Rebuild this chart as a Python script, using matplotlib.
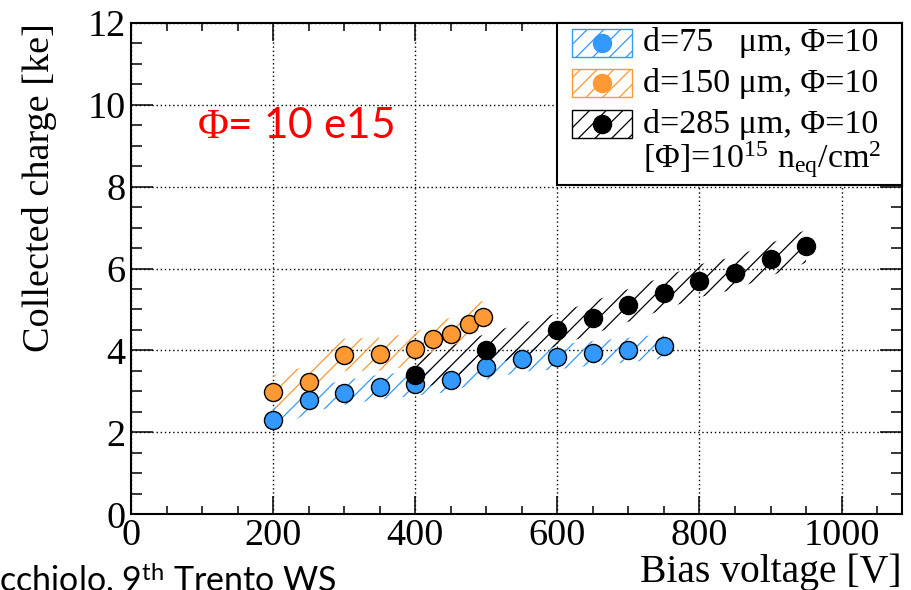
import matplotlib
matplotlib.use("Agg")
import matplotlib.pyplot as plt
from matplotlib.patches import Rectangle
from matplotlib.ticker import MultipleLocator

plt.rcParams['font.family'] = ['Liberation Serif', 'DejaVu Serif']
plt.rcParams['mathtext.fontset'] = 'custom'
plt.rcParams['mathtext.rm'] = 'Liberation Serif'
plt.rcParams['mathtext.it'] = 'Liberation Serif:italic'
plt.rcParams['mathtext.sf'] = 'Lato'
plt.rcParams['hatch.linewidth'] = 0.9

# ---- data ----
v_75 = [200, 250, 300, 350, 400, 450, 500, 550, 600, 650, 700, 750]
q_75 = [2.30, 2.79, 2.97, 3.11, 3.19, 3.29, 3.59, 3.78, 3.84, 3.93, 4.01, 4.10]
e_75 = [0.3] * 12

v_150 = [200, 250, 300, 350, 400, 425, 450, 475, 495]
q_150 = [2.99, 3.23, 3.89, 3.91, 4.03, 4.28, 4.40, 4.64, 4.82]
e_150 = [0.4] * 9

v_285 = [400, 500, 600, 650, 700, 750, 800, 850, 900, 950]
q_285 = [3.41, 4.01, 4.51, 4.80, 5.10, 5.40, 5.70, 5.89, 6.22, 6.54]
e_285 = [0.4] * 10

labels = ["d=75   μm, Φ=10", "d=150 μm, Φ=10", "d=285 μm, Φ=10"]
unit_label = r"[Φ]=10$^{15}$ n$_{\mathrm{eq}}$/cm$^{2}$"
colors = ["#3399ff", "#ff9933", "#000000"]

W, H = 912, 590
fig = plt.figure(figsize=(W / 100, H / 100), dpi=100)
L, R, T, B = 131, 902, 22.7, 514.3
ax = fig.add_axes([L / W, 1 - B / H, (R - L) / W, (B - T) / H])
ax.set_xlim(0, 1085)
ax.set_ylim(0, 12)

series = [(v_75, q_75, e_75), (v_150, q_150, e_150), (v_285, q_285, e_285)]
for (v, q, e), c in zip(series, colors):
    lo = [a - b for a, b in zip(q, e)]
    hi = [a + b for a, b in zip(q, e)]
    ax.fill_between(v, lo, hi, facecolor='none', edgecolor=c, hatch='//',
                    linewidth=0, zorder=2)
for (v, q, e), c in zip(series, colors):
    ax.plot(v, q, 'o', ms=13, mfc=c, mec='black', mew=1.0, zorder=3,
            linestyle='none')

ax.xaxis.set_major_locator(MultipleLocator(200))
ax.xaxis.set_minor_locator(MultipleLocator(50))
ax.yaxis.set_major_locator(MultipleLocator(2))
ax.yaxis.set_minor_locator(MultipleLocator(0.5))
ax.grid(True, which='major', color='black', linestyle=(0, (1, 2)), linewidth=1.0)
ax.set_axisbelow(True)
for s in ax.spines.values():
    s.set_linewidth(1.5)
ax.tick_params(axis='both', which='both', direction='in', top=True, right=True,
               width=1.1, labelsize=27.5)
ax.tick_params(axis='x', which='major', length=13, pad=3)
ax.tick_params(axis='x', which='minor', length=6)
ax.tick_params(axis='y', which='major', length=16, pad=4)
ax.tick_params(axis='y', which='minor', length=8)

fig.text(22 / W, 1 - 22.7 / H, "Collected charge [ke]", rotation=90,
         ha='left', va='top', fontsize=27.5)
fig.text(R / W, 1 - 582 / H, "Bias voltage [V]", ha='right', va='baseline',
         fontsize=28.5)

ax.text(93, 9.19, r"$\Phi$= 10 e15", color='red', fontsize=30.5,
        family=['Lato', 'Liberation Serif'], ha='left', va='baseline')

fig.text(337 / W, -0.002, r"A. Macchiolo, 9$^{\mathsf{th}}$ Trento WS",
         family=['Lato', 'DejaVu Sans'], fontsize=24.5, ha='right', va='baseline')

# ---- legend (manual) ----
def px(x, y):
    return ((x - L) / (R - L), (B - y) / (B - T))

x0, y0 = px(557, 185)
x1, y1 = px(902, 22.7)
ax.add_patch(Rectangle((x0, y0), x1 - x0, y1 - y0, transform=ax.transAxes,
                       facecolor='white', edgecolor='black', linewidth=1.5,
                       zorder=10, clip_on=False))
centers = [42.5, 83.3, 124.0]
for lab, c, yc in zip(labels, colors, centers):
    bx0, by0 = px(571.7, yc + 14)
    bx1, by1 = px(631.7, yc - 14)
    ax.add_patch(Rectangle((bx0, by0), bx1 - bx0, by1 - by0,
                           transform=ax.transAxes, facecolor='white',
                           edgecolor=c, hatch='//', linewidth=1.0, zorder=11,
                           clip_on=False))
    mx, my = px(601.7, yc)
    ax.plot([mx], [my], 'o', ms=13, mfc=c, mec=c, transform=ax.transAxes,
            zorder=12, clip_on=False)
    tx, ty = px(643, yc)
    ax.text(tx, ty, lab, transform=ax.transAxes, fontsize=24.5, ha='left',
            va='center', zorder=12)
tx, ty = px(643, 160)
ax.text(tx, ty, unit_label, transform=ax.transAxes, fontsize=24.5, ha='left',
        va='center', zorder=12)

fig.savefig("out.png", dpi=100)
